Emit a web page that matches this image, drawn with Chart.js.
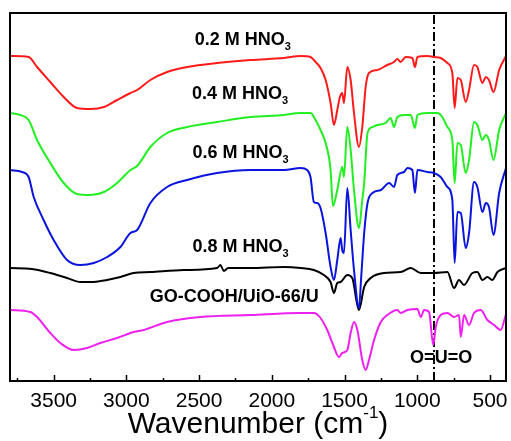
<!DOCTYPE html>
<html>
<head>
<meta charset="utf-8">
<script src="https://cdn.jsdelivr.net/npm/chart.js@4.4.0/dist/chart.umd.min.js"></script>
<style>
  html, body { margin: 0; padding: 0; background: #fff; }
</style>
</head>
<body>
<canvas id="ftir" width="511" height="441"></canvas>
<script>
// FTIR spectra, wavenumber (cm-1) vs. transmittance (arbitrary, stacked)
const redWn = [3800, 3672, 3614, 3523, 3431, 3339, 3247, 3154, 3064, 2972, 2926, 2835, 2720, 2582, 2376, 2146, 1916, 1802, 1734, 1699, 1665, 1630, 1596, 1573, 1550, 1532, 1516, 1504, 1481, 1458, 1435, 1401, 1378, 1355, 1332, 1275, 1206, 1160, 1137, 1114, 1080, 1034, 1016, 999, 931, 885, 839, 793, 759, 743, 724, 701, 667, 644, 610, 587, 552, 529, 507, 476, 437, 390];
const redT = [325, 324, 314, 299, 284, 273, 272, 274, 281, 288, 291, 301, 309, 314, 318, 321, 323, 325, 324, 319, 313, 301, 278, 256, 271, 284, 288, 278, 314, 301, 268, 234, 254, 294, 308, 311, 316, 319, 322, 319, 324, 323, 314, 324, 325, 324, 323, 318, 308, 273, 303, 301, 279, 291, 316, 314, 298, 304, 301, 289, 311, 325];

const greenWn = [3800, 3729, 3672, 3614, 3523, 3431, 3339, 3247, 3154, 3064, 2972, 2926, 2835, 2720, 2582, 2376, 2146, 1916, 1802, 1734, 1699, 1665, 1630, 1596, 1580, 1550, 1516, 1504, 1481, 1458, 1435, 1401, 1378, 1365, 1342, 1308, 1275, 1218, 1183, 1160, 1137, 1091, 1045, 1016, 999, 931, 862, 828, 793, 759, 743, 724, 701, 667, 644, 610, 587, 552, 529, 507, 476, 437, 390];
const greenT = [268, 266, 261, 241, 218, 198, 187, 186, 189, 198, 211, 215, 234, 248, 254, 259, 264, 266, 268, 268, 261, 251, 238, 211, 175, 191, 214, 204, 254, 231, 191, 153, 181, 198, 248, 254, 256, 258, 263, 254, 264, 266, 266, 253, 266, 268, 268, 264, 254, 241, 198, 238, 236, 208, 221, 259, 256, 241, 246, 241, 221, 251, 268];

const blueWn = [3800, 3717, 3672, 3637, 3569, 3500, 3408, 3316, 3224, 3132, 3041, 2972, 2926, 2835, 2720, 2582, 2376, 2146, 1916, 1802, 1757, 1734, 1711, 1688, 1665, 1630, 1596, 1573, 1550, 1527, 1516, 1504, 1481, 1458, 1435, 1401, 1385, 1365, 1342, 1308, 1250, 1193, 1160, 1137, 1091, 1068, 1034, 1016, 999, 931, 885, 839, 793, 759, 743, 724, 701, 667, 644, 610, 587, 552, 529, 507, 476, 437, 390];
const blueT = [211, 209, 204, 184, 161, 141, 121, 116, 118, 124, 134, 148, 151, 178, 194, 201, 208, 211, 211, 213, 211, 204, 179, 178, 173, 148, 114, 101, 121, 143, 131, 128, 193, 151, 111, 73, 105, 148, 178, 188, 191, 198, 194, 206, 209, 213, 211, 188, 211, 209, 208, 204, 194, 181, 118, 169, 168, 133, 148, 199, 194, 169, 178, 174, 146, 188, 213];

const blackWn = [3800, 3650, 3523, 3408, 3316, 3224, 3133, 3041, 2950, 2835, 2606, 2376, 2353, 2330, 2300, 2146, 1916, 1802, 1711, 1642, 1596, 1573, 1550, 1527, 1481, 1447, 1401, 1365, 1320, 1229, 1114, 1045, 976, 885, 793, 747, 713, 679, 621, 587, 552, 518, 484, 449, 390];
const blackT = [113, 112, 108, 103, 99, 99, 101, 104, 108, 109, 111, 113, 116, 110, 113, 113, 114, 113, 111, 106, 99, 88, 98, 99, 106, 103, 71, 94, 103, 108, 109, 113, 108, 108, 109, 93, 101, 96, 108, 109, 101, 104, 101, 109, 113];

const magWn = [3800, 3660, 3614, 3523, 3454, 3362, 3270, 3179, 3064, 2950, 2881, 2720, 2491, 2147, 1802, 1711, 1665, 1619, 1573, 1539, 1516, 1481, 1458, 1435, 1412, 1378, 1355, 1332, 1297, 1251, 1206, 1137, 1114, 1068, 999, 976, 953, 919, 890, 873, 839, 793, 747, 713, 701, 678, 644, 610, 564, 518, 472, 426, 392];
const magT = [71, 69, 64, 48, 38, 31, 33, 38, 43, 49, 51, 59, 64, 66, 68, 68, 63, 51, 34, 24, 28, 31, 48, 59, 51, 21, 11, 21, 41, 59, 66, 71, 68, 71, 72, 64, 71, 69, 36, 54, 66, 68, 64, 66, 44, 66, 56, 68, 71, 61, 56, 51, 66];

// curve labels (text, subscript, position in data units)
const labelText = ['0.2 M HNO', '0.4 M HNO', '0.6 M HNO', '0.8 M HNO', 'GO-COOH/UiO-66/U', 'O=U=O'];
const labelSub = ['3', '3', '3', '3', '', ''];
const labelWn = [2200, 2218, 2215, 2215, 2258, 836];
const labelT = [341, 287, 228, 134, 84, 23];

const majorTicks = [3500, 3000, 2500, 2000, 1500, 1000, 500];
const minorTicks = [3750, 3250, 2750, 2250, 1750, 1250, 750];
const uranylWn = 885;

const xMin = 390, xMax = 3800;
const yMin = 0, yMax = 368;

function pts(xs, ys) {
    return xs.map((x, i) => ({ x: x, y: ys[i] }));
}

function curve(label, xs, ys, color) {
    return {
        label: label,
        data: pts(xs, ys),
        borderColor: color,
        borderWidth: 2,
        pointRadius: 0,
        fill: false,
        cubicInterpolationMode: 'monotone'
    };
}

// frame, inward ticks, tick labels, curve labels and axis title
const decorPlugin = {
    id: 'decor',
    afterDraw: (chart) => {
        const ctx = chart.ctx;
        const area = chart.chartArea;
        const xs = chart.scales.x;
        const ys = chart.scales.y;

        ctx.save();
        ctx.strokeStyle = '#000';
        ctx.lineWidth = 2;
        ctx.strokeRect(area.left, area.top, area.right - area.left, area.bottom - area.top);

        ctx.lineWidth = 1.5;
        majorTicks.forEach(v => {
            const px = Math.round(xs.getPixelForValue(v)) + 0.5;
            ctx.beginPath();
            ctx.moveTo(px, area.bottom);
            ctx.lineTo(px, area.bottom - 6);
            ctx.stroke();
        });
        minorTicks.forEach(v => {
            const px = Math.round(xs.getPixelForValue(v)) + 0.5;
            ctx.beginPath();
            ctx.moveTo(px, area.bottom);
            ctx.lineTo(px, area.bottom - 3);
            ctx.stroke();
        });

        // tick labels
        ctx.fillStyle = '#000';
        ctx.textAlign = 'center';
        ctx.textBaseline = 'middle';
        ctx.font = '21px "Liberation Sans", Arial, sans-serif';
        majorTicks.forEach(v => {
            ctx.fillText(String(v), xs.getPixelForValue(v), area.bottom + 20);
        });

        // curve labels
        ctx.textAlign = 'left';
        labelText.forEach((t, i) => {
            const mainFont = 'bold 18px "Liberation Sans", Arial, sans-serif';
            const subFont = 'bold 11px "Liberation Sans", Arial, sans-serif';
            ctx.font = mainFont;
            const w1 = ctx.measureText(t).width;
            ctx.font = subFont;
            const w2 = labelSub[i] ? ctx.measureText(labelSub[i]).width : 0;
            const cx = xs.getPixelForValue(labelWn[i]);
            const cy = ys.getPixelForValue(labelT[i]);
            const x0 = cx - (w1 + w2) / 2;
            ctx.font = mainFont;
            ctx.fillText(t, x0, cy);
            if (labelSub[i]) {
                ctx.font = subFont;
                ctx.fillText(labelSub[i], x0 + w1, cy + 7);
            }
        });

        // axis title with superscript
        const tFont = '30px "Liberation Sans", Arial, sans-serif';
        const sFont = '17px "Liberation Sans", Arial, sans-serif';
        const p1 = 'Wavenumber (cm', p2 = '-1', p3 = ')';
        ctx.font = tFont;
        const a = ctx.measureText(p1).width;
        const c = ctx.measureText(p3).width;
        ctx.font = sFont;
        const b = ctx.measureText(p2).width;
        let tx = 258 - (a + b + c) / 2;
        const ty = 425;
        ctx.font = tFont;
        ctx.fillText(p1, tx, ty);
        ctx.font = sFont;
        ctx.fillText(p2, tx + a, ty - 12);
        ctx.font = tFont;
        ctx.fillText(p3, tx + a + b, ty);
        ctx.restore();
    }
};

new Chart(document.getElementById('ftir'), {
    type: 'line',
    data: {
        datasets: [
            curve('0.2 M HNO3', redWn, redT, '#ff1a1a'),
            curve('0.4 M HNO3', greenWn, greenT, '#22ee22'),
            curve('0.6 M HNO3', blueWn, blueT, '#0a14dc'),
            curve('0.8 M HNO3', blackWn, blackT, '#000000'),
            curve('GO-COOH/UiO-66/U', magWn, magT, '#ee20ee'),
            {
                label: 'O=U=O',
                data: [{ x: uranylWn, y: yMin }, { x: uranylWn, y: yMax }],
                borderColor: '#000',
                borderWidth: 2,
                borderDash: [9, 3, 2, 3],
                pointRadius: 0,
                fill: false
            }
        ]
    },
    options: {
        responsive: false,
        animation: false,
        layout: { padding: { left: 10, right: 5, top: 13, bottom: 60 } },
        plugins: {
            legend: { display: false },
            tooltip: { enabled: false }
        },
        scales: {
            x: {
                type: 'linear',
                display: false,
                reverse: true,
                min: xMin,
                max: xMax
            },
            y: {
                display: false,
                min: yMin,
                max: yMax
            }
        }
    },
    plugins: [decorPlugin]
});
</script>
</body>
</html>
